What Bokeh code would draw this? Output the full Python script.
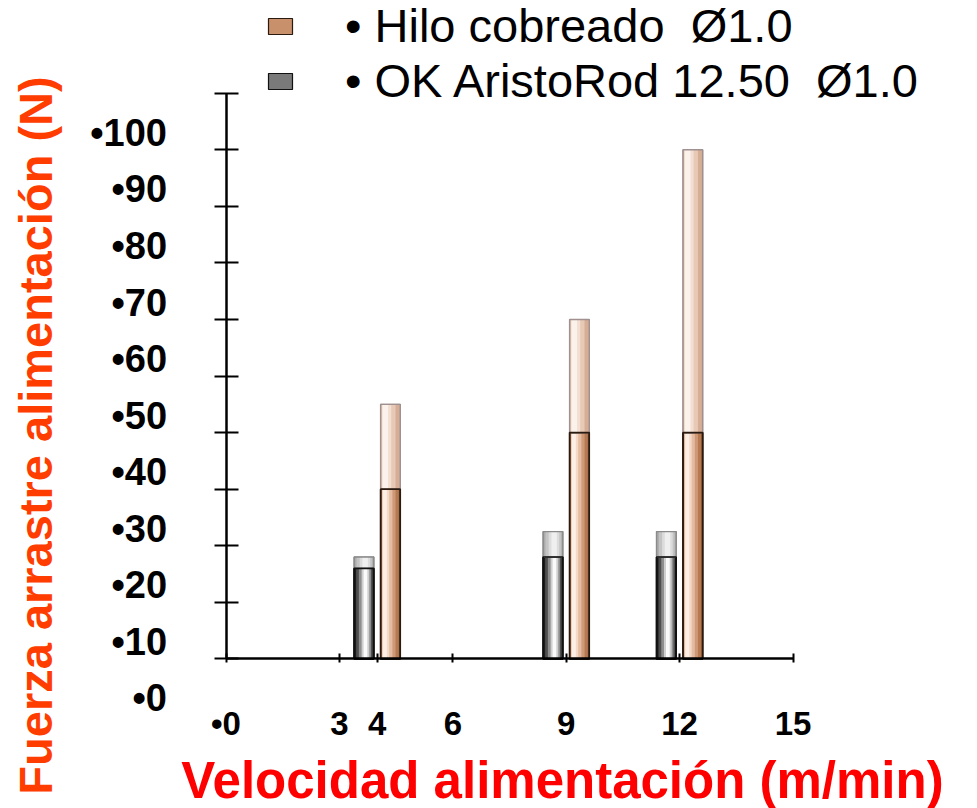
from bokeh.plotting import figure
from bokeh.models import (Range1d, LinearAxis, FixedTicker, Legend, LegendItem,
                          Label, ColumnDataSource)
from bokeh.transform import dodge
from bokeh.embed import file_html
from bokeh.resources import INLINE

# ---------------- data ----------------
speeds = [4, 9, 12]                       # Velocidad alimentación (m/min)
aristorod_base = [26, 28, 28]             # OK AristoRod 12.50 Ø1.0 (dark part)
aristorod_peak = [28, 32.5, 32.5]         # OK AristoRod 12.50 Ø1.0 (light top)
copper_base = [40, 50, 50]                # Hilo cobreado Ø1.0 (dark part)
copper_peak = [55, 70, 100]               # Hilo cobreado Ø1.0 (light top)

x_tick_values = [0, 3, 4, 6, 9, 12, 15]
x_tick_labels = ["•0", "3", "4", "6", "9", "12", "15"]
y_tick_values = [10, 20, 30, 40, 50, 60, 70, 80, 90, 100, 110]
y_label_values = [0, 10, 20, 30, 40, 50, 60, 70, 80, 90, 100]
y_label_texts = ["•0", "•10", "•20", "•30", "•40", "•50", "•60", "•70", "•80", "•90", "•100"]
axis_floor = 10

legend_labels = ["• Hilo cobreado  Ø1.0", "• OK AristoRod 12.50  Ø1.0"]
x_title = "Velocidad alimentación (m/min)"
y_title = "Fuerza arrastre alimentación (N)"

# ---------------- style ----------------
FONT = "Liberation Sans"
W, H = 977, 808
BAR_W = 0.52
OFFSET = 0.35
LABEL_SHIFT = 3

p = figure(width=W, height=H,
           x_range=Range1d(-5.966, 19.881), y_range=Range1d(-16.46, 126.40),
           output_backend="svg", toolbar_location=None,
           x_axis_location=None, y_axis_location=None, min_border=0)
p.outline_line_color = None
p.background_fill_color = "white"
p.border_fill_color = "white"
p.grid.visible = False

src = ColumnDataSource(dict(
    speed=speeds, floor=[axis_floor] * len(speeds),
    ar_base=aristorod_base, ar_peak=aristorod_peak,
    cu_base=copper_base, cu_peak=copper_peak,
))


def bar_part(center, bottom, top, mid_color, strips, line_color):
    base = p.vbar(x=dodge("speed", center, range=p.x_range), bottom=bottom, top=top,
                  width=BAR_W, source=src, fill_color=mid_color,
                  line_color=line_color, line_width=1.2)
    for a, b, c in strips:
        p.vbar(x=dodge("speed", center + (a + b) / 2 * BAR_W, range=p.x_range),
               bottom=bottom, top=top, width=(b - a) * BAR_W, source=src,
               fill_color=c, line_color=None)
    p.vbar(x=dodge("speed", center, range=p.x_range), bottom=bottom, top=top,
           width=BAR_W, source=src, fill_color=None, line_color=line_color,
           line_width=1.4)
    return base


gray_dark = [(-0.5, 0.5, "#1c1c1c"), (-0.4, 0.44, "#4e4e4e"), (-0.26, 0.36, "#8e8e8e"),
             (-0.12, 0.27, "#cfcfcf"), (-0.02, 0.17, "#fafafa")]
gray_light = [(-0.5, 0.5, "#acacac"), (-0.38, 0.42, "#c4c4c4"), (-0.22, 0.32, "#dcdcdc"),
              (-0.08, 0.2, "#efefef")]
brown_dark = [(-0.5, 0.5, "#9e613a"), (-0.47, 0.42, "#b67a53"), (-0.45, 0.26, "#cf9977"),
              (-0.43, 0.1, "#e5bca1"), (-0.41, -0.06, "#f4d9c8"), (-0.38, -0.18, "#fcefe6")]
brown_light = [(-0.5, 0.5, "#d6ad95"), (-0.46, 0.26, "#e7c9b6"), (-0.44, 0.04, "#f2dfd2"),
               (-0.4, -0.12, "#fbf2ec")]

r_ar = bar_part(-OFFSET, "floor", "ar_base", "#7a7a7a", gray_dark, "#111111")
bar_part(-OFFSET, "ar_base", "ar_peak", "#c4c4c4", gray_light, "#8a8a8a")
r_cu = bar_part(OFFSET, "floor", "cu_base", "#c8916c", brown_dark, "#2a1a10")
bar_part(OFFSET, "cu_base", "cu_peak", "#ecd3c3", brown_light, "#a09090")
# redraw the boundary line between dark and light parts
p.vbar(x=dodge("speed", -OFFSET, range=p.x_range), bottom="floor", top="ar_base",
       width=BAR_W, source=src, fill_color=None, line_color="#111111", line_width=1.6)
p.vbar(x=dodge("speed", OFFSET, range=p.x_range), bottom="floor", top="cu_base",
       width=BAR_W, source=src, fill_color=None, line_color="#2a1a10", line_width=1.6)

# ---------------- axes ----------------
xaxis = LinearAxis(fixed_location=axis_floor, ticker=FixedTicker(ticks=x_tick_values),
                   major_label_overrides=dict(zip(x_tick_values, x_tick_labels)),
                   bounds=(x_tick_values[0], x_tick_values[-1]))
xaxis.axis_line_width = 2.5
xaxis.axis_line_color = "black"
xaxis.major_tick_in = 5
xaxis.major_tick_out = 4
xaxis.major_tick_line_width = 2
xaxis.minor_tick_line_color = None
xaxis.major_label_standoff = 42
xaxis.major_label_text_font = FONT
xaxis.major_label_text_font_style = "bold"
xaxis.major_label_text_font_size = "33px"
xaxis.major_label_text_color = "black"
p.add_layout(xaxis, "below")

yaxis = LinearAxis(fixed_location=0, ticker=FixedTicker(ticks=y_tick_values),
                   bounds=(y_tick_values[0], y_tick_values[-1]),
                   major_label_overrides={v: "" for v in y_tick_values})
yaxis.axis_line_width = 2.5
yaxis.axis_line_color = "black"
yaxis.major_tick_in = 12
yaxis.major_tick_out = 12
yaxis.major_tick_line_width = 2
yaxis.minor_tick_line_color = None
p.add_layout(yaxis, "left")

label_pos = [v + LABEL_SHIFT for v in y_label_values]
ylabels = LinearAxis(fixed_location=0, ticker=FixedTicker(ticks=label_pos),
                     major_label_overrides=dict(zip(label_pos, y_label_texts)))
ylabels.axis_line_color = None
ylabels.major_tick_line_color = None
ylabels.minor_tick_line_color = None
ylabels.major_tick_in = 0
ylabels.major_tick_out = 0
ylabels.major_label_standoff = 59
ylabels.major_label_text_font = FONT
ylabels.major_label_text_font_style = "bold"
ylabels.major_label_text_font_size = "38px"
ylabels.major_label_text_color = "black"
p.add_layout(ylabels, "left")

# ---------------- legend ----------------
legend = Legend(items=[LegendItem(label=legend_labels[0], renderers=[r_cu]),
                       LegendItem(label=legend_labels[1], renderers=[r_ar])],
                location=(265, 700), orientation="vertical",
                glyph_width=30, glyph_height=20, label_standoff=50,
                label_text_font=FONT, label_text_font_size="47px",
                label_text_color="black", padding=0, margin=0, spacing=-4,
                border_line_color=None, background_fill_alpha=0)
p.add_layout(legend)

# ---------------- titles ----------------
p.add_layout(Label(x=562, y=28, x_units="screen", y_units="screen", text=x_title,
                   text_align="center", text_baseline="middle", text_font=FONT,
                   text_font_style="bold", text_font_size="51px", text_color="#FF0000"))
p.add_layout(Label(x=35, y=373, x_units="screen", y_units="screen", text=y_title,
                   angle=90, angle_units="deg", text_align="center",
                   text_baseline="middle", text_font=FONT, text_font_style="bold",
                   text_font_size="47px", text_color="#FF3D00"))

open("out.html", "w").write(file_html(p, INLINE))
